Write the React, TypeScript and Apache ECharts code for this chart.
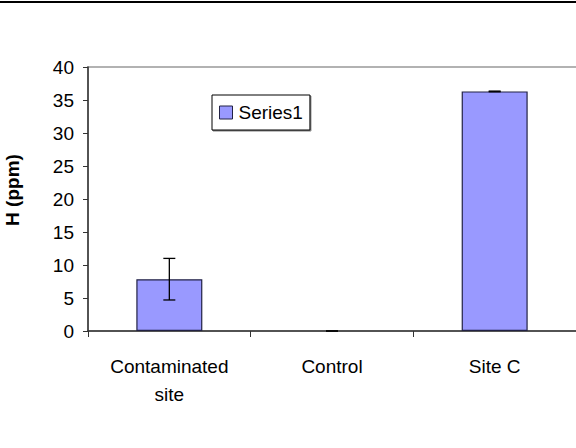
import React, { useEffect, useRef } from "react";
import * as echarts from "echarts";

const categories = ["Contaminated\nsite", "Control", "Site C"];
const values = [7.85, 0, 36.3];
const errors = [3.15, 0, 0.05];
const seriesName = "Series1";
const yTitle = "H (ppm)";

export default function App() {
  const ref = useRef<HTMLDivElement>(null);
  useEffect(() => {
    if (!ref.current) return;
    const chart = echarts.init(ref.current, undefined, { renderer: "svg" });
    const font = "Liberation Sans, Arial, sans-serif";
    chart.setOption({
      animation: false,
      backgroundColor: "#ffffff",
      graphic: [
        { type: "line", shape: { x1: 0, y1: 2, x2: 576, y2: 2 }, style: { stroke: "#000", lineWidth: 2 } },
        {
          type: "rect",
          shape: { x: 88, y: 67, width: 490, height: 264 },
          style: { fill: "none", stroke: "#999", lineWidth: 1.5 },
          z: -1,
        },
        {
          type: "text",
          x: 12,
          y: 190,
          rotation: Math.PI / 2,
          style: {
            text: yTitle,
            fontFamily: font,
            fontSize: 19,
            fontWeight: "bold",
            fill: "#000",
            align: "center",
            verticalAlign: "middle",
          },
        },
      ],
      legend: {
        left: 212,
        top: 95,
        data: [{ name: seriesName, icon: "rect" }],
        itemWidth: 13,
        itemHeight: 13,
        itemGap: 4,
        padding: [8, 7, 8, 7],
        borderColor: "#000",
        borderWidth: 1,
        shadowColor: "rgba(0,0,0,0.5)",
        shadowOffsetX: 1,
        shadowOffsetY: 1,
        backgroundColor: "#fff",
        itemStyle: { borderColor: "#222244", borderWidth: 1 },
        textStyle: { fontFamily: font, fontSize: 19, color: "#000", padding: [0, 0, 0, 1] },
      },
      grid: { left: 88, top: 67, width: 489, height: 264 },
      xAxis: {
        type: "category",
        data: categories,
        axisLine: { lineStyle: { color: "#333", width: 1.5 } },
        axisTick: { show: true, alignWithLabel: false, length: 6, lineStyle: { color: "#333" } },
        axisLabel: { fontFamily: font, fontSize: 19, color: "#000", margin: 21, lineHeight: 28 },
      },
      yAxis: {
        type: "value",
        min: 0,
        max: 40,
        interval: 5,
        axisLine: { show: true, lineStyle: { color: "#333", width: 1.5 } },
        axisTick: { show: true, length: 5, lineStyle: { color: "#333" } },
        splitLine: { show: false },
        axisLabel: { fontFamily: font, fontSize: 19, color: "#000", margin: 14 },
      },
      series: [
        {
          name: seriesName,
          type: "bar",
          data: values.map((v) => (v === 0 ? { value: v, itemStyle: { borderWidth: 0 } } : v)),
          barWidth: 66,
          itemStyle: { color: "#9999FF", borderColor: "#222244", borderWidth: 1.2 },
        },
        {
          type: "custom",
          name: "err",
          data: values.map((v, i) => [i, v - errors[i], v + errors[i]]),
          renderItem: (params: any, api: any) => {
            const x = api.value(0);
            const lo = api.coord([x, api.value(1)]);
            const hi = api.coord([x, api.value(2)]);
            const hw = 6;
            const st = { stroke: "#000", lineWidth: 1.3 };
            return {
              type: "group",
              children: [
                { type: "line", shape: { x1: lo[0], y1: lo[1], x2: hi[0], y2: hi[1] }, style: st },
                { type: "line", shape: { x1: lo[0] - hw, y1: lo[1], x2: lo[0] + hw, y2: lo[1] }, style: st },
                { type: "line", shape: { x1: hi[0] - hw, y1: hi[1], x2: hi[0] + hw, y2: hi[1] }, style: st },
              ],
            };
          },
          z: 10,
        },
      ],
    });
    return () => chart.dispose();
  }, []);
  return <div ref={ref} style={{ width: 576, height: 448, position: "absolute", left: 0, top: 0 }} />;
}
